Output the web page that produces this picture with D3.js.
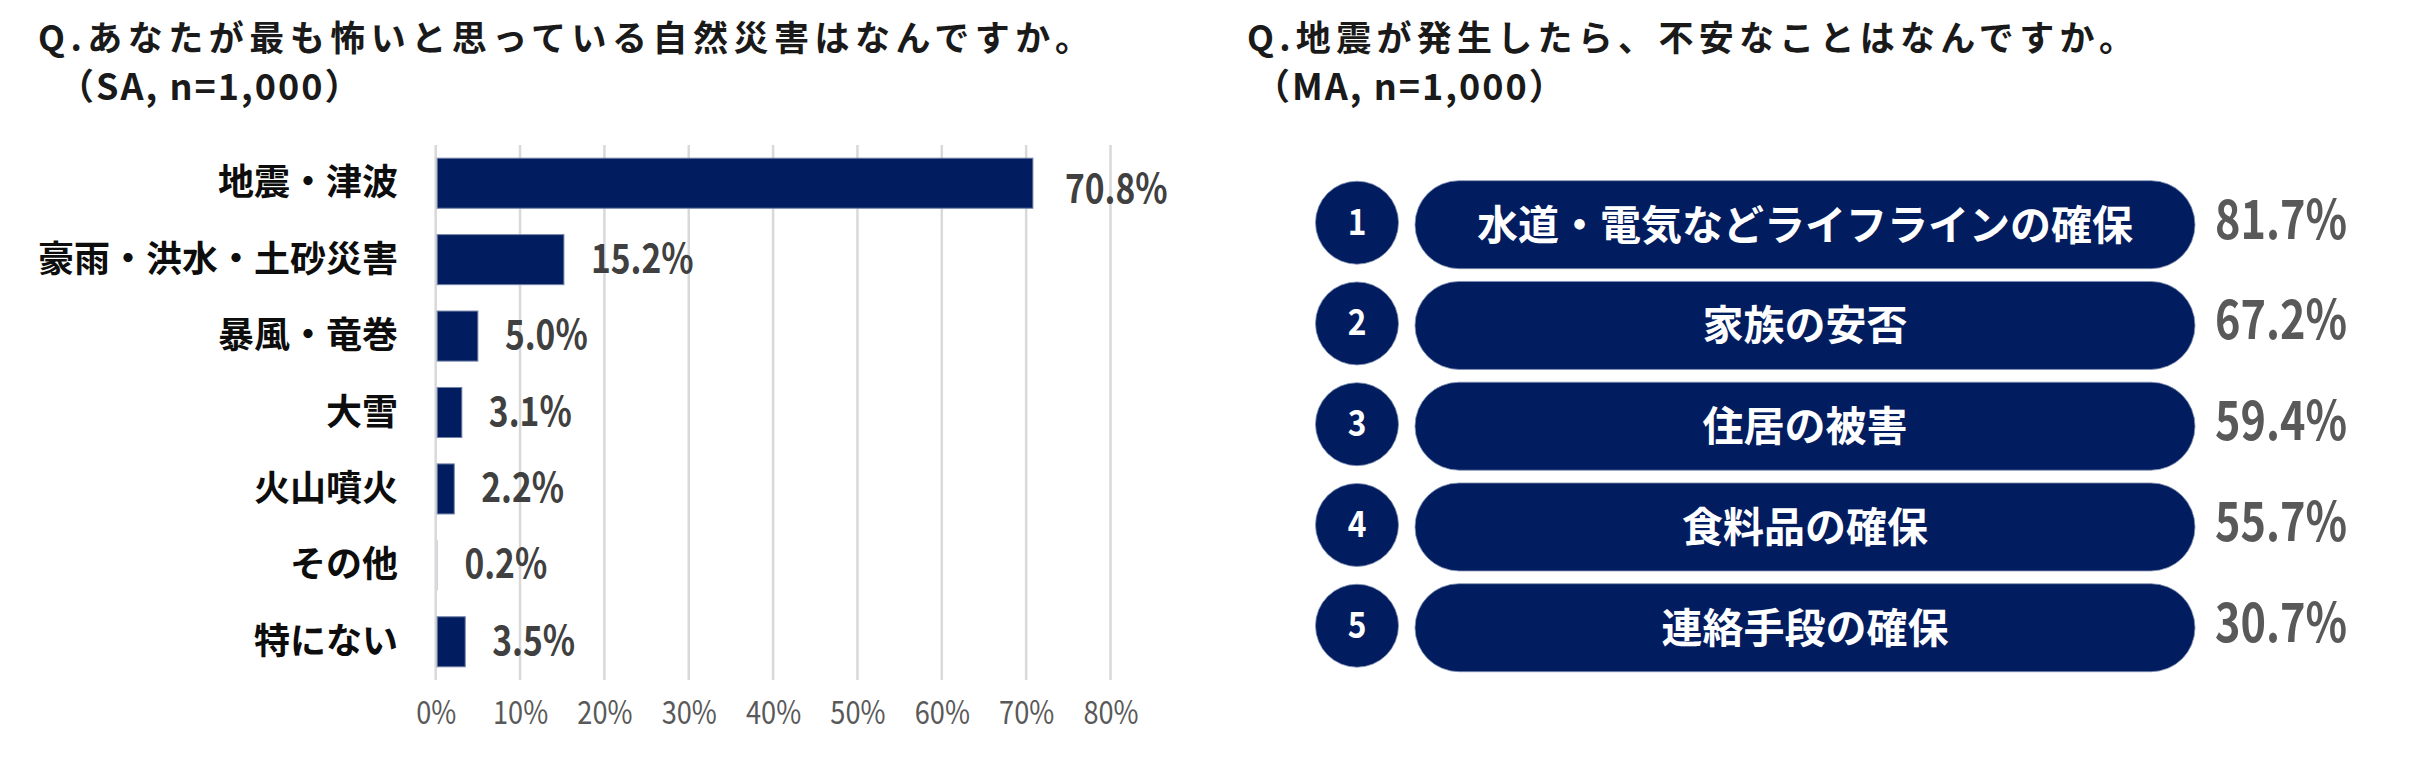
<!DOCTYPE html>
<html><head><meta charset="utf-8">
<script src="https://cdn.jsdelivr.net/npm/d3@7"></script>
<style>
html,body{margin:0;padding:0;background:#fff;}
text{font-family:"Noto Sans CJK JP","Noto Sans",sans-serif;}
</style></head>
<body>
<svg id="c" width="2420" height="765"></svg>
<script>
// ---- Left chart data ----
const leftTitle1 = "Q.あなたが最も怖いと思っている自然災害はなんですか。";
const leftTitle2 = "（SA, n=1,000）";
const disasterCategories = ["地震・津波","豪雨・洪水・土砂災害","暴風・竜巻","大雪","火山噴火","その他","特にない"];
const disasterValues = [70.8, 15.2, 5.0, 3.1, 2.2, 0.2, 3.5];
const xTicks = [0,10,20,30,40,50,60,70,80];
const xTickLabels = ["0%","10%","20%","30%","40%","50%","60%","70%","80%"];

// ---- Right chart data ----
const rightTitle1 = "Q.地震が発生したら、不安なことはなんですか。";
const rightTitle2 = "（MA, n=1,000）";
const concernRanks = ["1","2","3","4","5"];
const concernItems = ["水道・電気などライフラインの確保","家族の安否","住居の被害","食料品の確保","連絡手段の確保"];
const concernValues = [81.7, 67.2, 59.4, 55.7, 30.7];

const NAVY = "#021d5f";
const svg = d3.select("#c");

// ---------- Titles ----------
function title(x, y1, y2, x2, t1, t2, len1) {
  svg.append("text").attr("x", x).attr("y", y1)
    .attr("font-size", 35).attr("font-weight", 700).attr("fill", "#1a1a1a")
    .attr("textLength", len1).attr("lengthAdjust", "spacing")
    .text(t1);
  svg.append("text").attr("x", x2).attr("y", y2)
    .attr("font-size", 36).attr("font-weight", 700).attr("fill", "#1a1a1a")
    .attr("letter-spacing", 2)
    .text(t2);
}
title(38, 51, 100, 58, leftTitle1, leftTitle2, 1052);
title(1247, 51, 100, 1254, rightTitle1, rightTitle2, 887);

// ---------- Left bar chart ----------
const x = d3.scaleLinear().domain([0, 80]).range([435.7, 1110.5]);
const y = d3.scaleBand().domain(disasterCategories).range([145, 680])
  .paddingInner(0.345).paddingOuter(0.1725);

const grid = svg.append("g");
grid.selectAll("line").data(xTicks).join("line")
  .attr("x1", d => x(d)).attr("x2", d => x(d))
  .attr("y1", 145).attr("y2", 680)
  .attr("stroke", "#d9d9d9").attr("stroke-width", 2.5);

const xAxis = svg.append("g").attr("transform", "translate(0,680)")
  .call(d3.axisBottom(x).tickValues(xTicks).tickFormat((d, i) => xTickLabels[i]).tickSize(0).tickPadding(21));
xAxis.select(".domain").remove();
xAxis.selectAll("text").attr("font-size", 32).attr("fill", "#595959")
  .attr("font-family", '"Noto Sans CJK JP", sans-serif')
  .attr("transform", "scale(0.85,1)");

svg.append("g").selectAll("rect").data(disasterValues).join("rect")
  .attr("x", x(0) + 1.5)
  .attr("y", (d, i) => y(disasterCategories[i]))
  .attr("width", d => Math.max(0, x(d) - x(0) - 1.5))
  .attr("height", y.bandwidth())
  .attr("fill", NAVY)
  .attr("stroke", "#7383a8").attr("stroke-width", d => d > 0.5 ? 1 : 0);

svg.append("g").selectAll("text").data(disasterCategories).join("text")
  .attr("x", 398)
  .attr("y", d => y(d) + y.bandwidth() / 2 - 4)
  .attr("text-anchor", "end").attr("dominant-baseline", "central")
  .attr("font-size", 36).attr("font-weight", 700).attr("fill", "#0d0d0d")
  .text(d => d);

svg.append("g").selectAll("text").data(disasterValues).join("text")
  .attr("transform", (d, i) => `translate(${x(d) + 27 + (i === 0 ? 5 : 0)},${y(disasterCategories[i]) + y.bandwidth() / 2 + 13 + (i === 0 ? 7 : 0)}) scale(0.84,1)`)
  .attr("font-size", 40).attr("font-weight", 700).attr("fill", "#404040")
  .text(d => d.toFixed(1) + "%");

// ---------- Right ranking ----------
const yr = d3.scaleBand().domain(concernRanks).range([174.3, 678.1])
  .paddingInner(0.1266).paddingOuter(0.0633);
const pillX0 = 1415, pillX1 = 2195, circleCx = 1357;
const rows = svg.append("g").selectAll("g").data(concernRanks).join("g")
  .attr("transform", d => `translate(0,${yr(d) + yr.bandwidth() / 2})`);

rows.append("circle").attr("cx", circleCx).attr("cy", -2).attr("r", 41.5)
  .attr("fill", NAVY).attr("stroke", "#8190b3").attr("stroke-width", 0.8);
rows.append("text").attr("transform", `translate(${circleCx},10) scale(0.88,1)`)
  .attr("text-anchor", "middle").attr("font-size", 36).attr("font-weight", 700).attr("fill", "#fff")
  .text(d => d);

rows.append("rect").attr("x", pillX0).attr("y", -yr.bandwidth() / 2)
  .attr("width", pillX1 - pillX0).attr("height", yr.bandwidth())
  .attr("rx", yr.bandwidth() / 2).attr("ry", yr.bandwidth() / 2)
  .attr("fill", NAVY).attr("stroke", "#8190b3").attr("stroke-width", 0.8);
rows.append("text").attr("x", (pillX0 + pillX1) / 2).attr("y", -3)
  .attr("text-anchor", "middle").attr("dominant-baseline", "central")
  .attr("font-size", 41).attr("font-weight", 700).attr("fill", "#fff")
  .text((d, i) => concernItems[i]);
rows.append("text").attr("transform", "translate(2215,14) scale(0.8,1)")
  .attr("font-size", 54).attr("font-weight", 700).attr("fill", "#595959")
  .text((d, i) => concernValues[i].toFixed(1) + "%");
</script>
</body></html>
